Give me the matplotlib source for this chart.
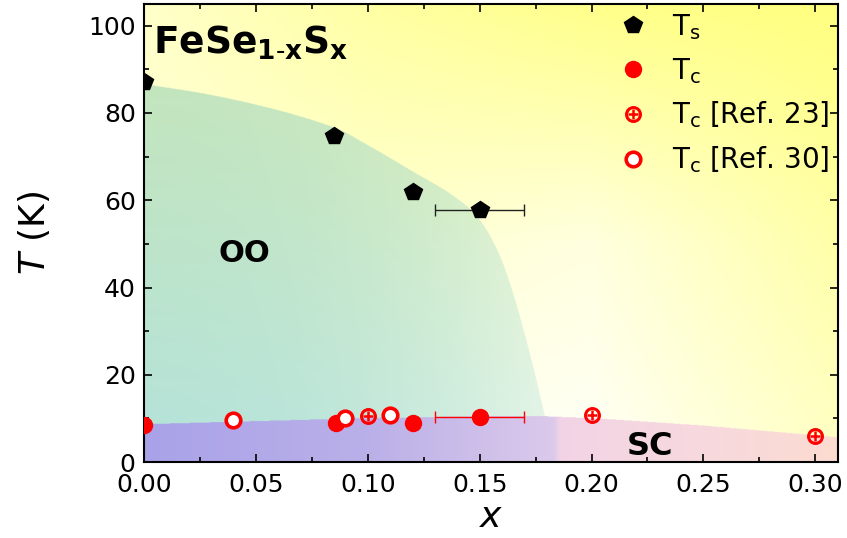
import numpy as np
import matplotlib
matplotlib.use("Agg")
import matplotlib.pyplot as plt
from matplotlib.path import Path

# ---------------- data ----------------
ts_x = [0.0, 0.085, 0.12, 0.15]
ts_T = [87.0, 74.8, 61.8, 57.8]
ts_xerr = [0.0, 0.0, 0.0, 0.02]

tc_x = [0.0, 0.086, 0.12, 0.15]
tc_T = [8.5, 9.0, 9.0, 10.4]
tc_xerr = [0.0, 0.0, 0.0, 0.02]

ref23_x = [0.10, 0.20, 0.30]
ref23_T = [10.6, 10.7, 5.9]

ref30_x = [0.04, 0.09, 0.11]
ref30_T = [9.6, 10.0, 10.7]

# phase boundaries (shaded regions)
oo_x = [0.0, 0.03, 0.06, 0.085, 0.10, 0.12, 0.135, 0.145, 0.15, 0.155, 0.16, 0.165, 0.17, 0.175, 0.18, 0.1838]
oo_T = [86.5, 84.0, 80.5, 76.5, 72.5, 66.5, 62.0, 58.2, 55.4, 51.4, 45.9, 38.4, 29.4, 19.4, 8.4, 0.0]

sc_x = [0.0, 0.05, 0.10, 0.15, 0.18, 0.20, 0.25, 0.31]
sc_T = [8.6, 9.3, 10.0, 10.4, 10.4, 10.0, 8.3, 5.6]

XMAX, YMAX = 0.31, 105


def catmull_rom(px, py, n=20):
    """Smooth curve through the given boundary points (normalised space)."""
    P = np.column_stack([np.asarray(px) / XMAX, np.asarray(py) / YMAX])
    P = np.vstack([2 * P[0] - P[1], P, 2 * P[-1] - P[-2]])
    out = []
    t = np.linspace(0, 1, n, endpoint=False)[:, None]
    for i in range(1, len(P) - 2):
        p0, p1, p2, p3 = P[i - 1], P[i], P[i + 1], P[i + 2]
        c = 0.5 * ((2 * p1) + (-p0 + p2) * t + (2 * p0 - 5 * p1 + 4 * p2 - p3) * t ** 2
                   + (-p0 + 3 * p1 - 3 * p2 + p3) * t ** 3)
        out.append(c)
    out.append(P[-2][None, :])
    out = np.vstack(out)
    return out[:, 0] * XMAX, out[:, 1] * YMAX


# ---------------- figure ----------------
fig = plt.figure(figsize=(8.47, 5.38), dpi=100)
ax = fig.add_axes([0.170, 0.141, 0.819, 0.852])

# --- background composite image ---
nx, ny = 1240, 840
xs = np.linspace(0, XMAX, nx)
ys = np.linspace(0, YMAX, ny)
X, Y = np.meshgrid(xs, ys)

# yellow intensity grid (style)
gx = np.array([0.0, 0.1, 0.2, 0.31])
gy = np.array([0.0, 50.0, 105.0])
gs = np.array([[0.10, 0.10, 0.06, 0.45],
               [0.30, 0.35, 0.25, 0.68],
               [0.42, 0.72, 0.92, 1.00]])
tmp = np.array([np.interp(xs, gx, row) for row in gs])
S = np.array([np.interp(ys, gy, tmp[:, i]) for i in range(nx)]).T
S = np.clip(S, 0, 1)
img = np.ones((ny, nx, 3))
img[..., 2] = 1 - 0.5 * S

# OO region (smooth boundary)
bx, bT = catmull_rom(oo_x, oo_T)
oo_poly = np.column_stack([np.r_[bx, 0.0], np.r_[bT, 0.0]])
oo_path = Path(oo_poly)
pts = np.column_stack([X.ravel(), Y.ravel()])
oo_mask = oo_path.contains_points(pts).reshape(X.shape)
teal = np.array([0.71, 0.89, 0.86])
green = np.array([0.77, 0.90, 0.74])
fy = np.clip(Y / 90.0, 0, 1)[..., None]
oo_col = teal * (1 - fy) + green * fy
alpha = (1 - 0.65 * np.clip(X / 0.184, 0, 1) ** 2.2)[..., None]
oo_img = oo_col * alpha + img * (1 - alpha)
img = np.where(oo_mask[..., None], oo_img, img)

# SC region
sc_line = np.interp(xs, sc_x, sc_T)
sc_mask = Y < sc_line[None, :]
cstops_x = [0.0, 0.1, 0.183, 0.186, 0.25, 0.31]
cstops = np.array([[0.66, 0.635, 0.91],
                   [0.73, 0.69, 0.91],
                   [0.86, 0.79, 0.92],
                   [0.95, 0.83, 0.90],
                   [0.97, 0.85, 0.87],
                   [0.99, 0.86, 0.82]])
sc_col = np.stack([np.interp(xs, cstops_x, cstops[:, k]) for k in range(3)], axis=-1)
sc_img = np.broadcast_to(sc_col[None, :, :], img.shape)
img = np.where(sc_mask[..., None], sc_img, img)

ax.imshow(img, origin="lower", extent=[0, XMAX, 0, YMAX], aspect="auto",
          interpolation="antialiased", zorder=0)

# ---------------- data marks ----------------
ax.errorbar(ts_x, ts_T, xerr=ts_xerr, fmt="p", color="black", ms=13,
            ecolor="#222222", elinewidth=1.0, capsize=4, capthick=1.0, zorder=4)
ax.errorbar(tc_x, tc_T, xerr=tc_xerr, fmt="o", color="red", ms=11.5,
            ecolor="red", elinewidth=1.0, capsize=4, capthick=1.0, zorder=4)
h23a, = ax.plot(ref23_x, ref23_T, "o", ms=10, mfc="none", mec="red", mew=2.2,
                ls="none", zorder=5, clip_on=False)
h23b, = ax.plot(ref23_x, ref23_T, "+", ms=7.5, mec="red", mew=1.8,
                ls="none", zorder=5, clip_on=False)
h30, = ax.plot(ref30_x, ref30_T, "o", ms=10.5, mfc="white", mec="red", mew=2.6,
               ls="none", zorder=5, clip_on=False)

hts, = ax.plot([], [], "p", color="black", ms=13, ls="none")
htc, = ax.plot([], [], "o", color="red", ms=11.5, ls="none")

leg = ax.legend([hts, htc, (h23a, h23b), h30],
                [r"$\mathregular{T_s}$", r"$\mathregular{T_c}$",
                 r"$\mathregular{T_c}$ [Ref. 23]", r"$\mathregular{T_c}$ [Ref. 30]"],
                loc="upper right", bbox_to_anchor=(1.012, 1.018), frameon=False,
                fontsize=20, handlelength=1.0, handletextpad=0.9,
                labelspacing=0.5, borderaxespad=0.2)

# ---------------- texts ----------------
ax.text(0.004, 93.5, r"$\mathbf{FeSe}_{\mathbf{1\text{-}x}}\mathbf{S}_{\mathbf{x}}$",
        fontsize=27, ha="left", va="baseline", zorder=6)
ax.text(0.045, 47.8, "OO", fontsize=22, fontweight="bold", ha="center",
        va="center", zorder=6)
ax.text(0.226, 3.6, "SC", fontsize=23, fontweight="bold", ha="center",
        va="center", zorder=6)

# ---------------- axes ----------------
ax.set_xlim(0, XMAX)
ax.set_ylim(0, YMAX)
ax.set_xticks(np.arange(0, 0.31, 0.05))
ax.set_xticks(np.arange(0, 0.31, 0.025), minor=True)
ax.set_yticks(np.arange(0, 101, 20))
ax.set_yticks(np.arange(0, 101, 10), minor=True)
ax.xaxis.set_major_formatter(matplotlib.ticker.FormatStrFormatter("%.2f"))
ax.tick_params(which="both", direction="in", top=True, right=True,
               labelsize=18, width=1.2)
ax.tick_params(which="major", length=6)
ax.tick_params(which="minor", length=3.5)
ax.tick_params(axis="x", which="major", pad=8)
ax.tick_params(axis="y", which="major", pad=6)
for sp in ax.spines.values():
    sp.set_linewidth(1.5)

ax.set_xlabel(r"$x$", fontsize=26, labelpad=2)
ax.set_ylabel(r"$T$ (K)", fontsize=26, labelpad=26)

fig.savefig("out.png", dpi=100)
